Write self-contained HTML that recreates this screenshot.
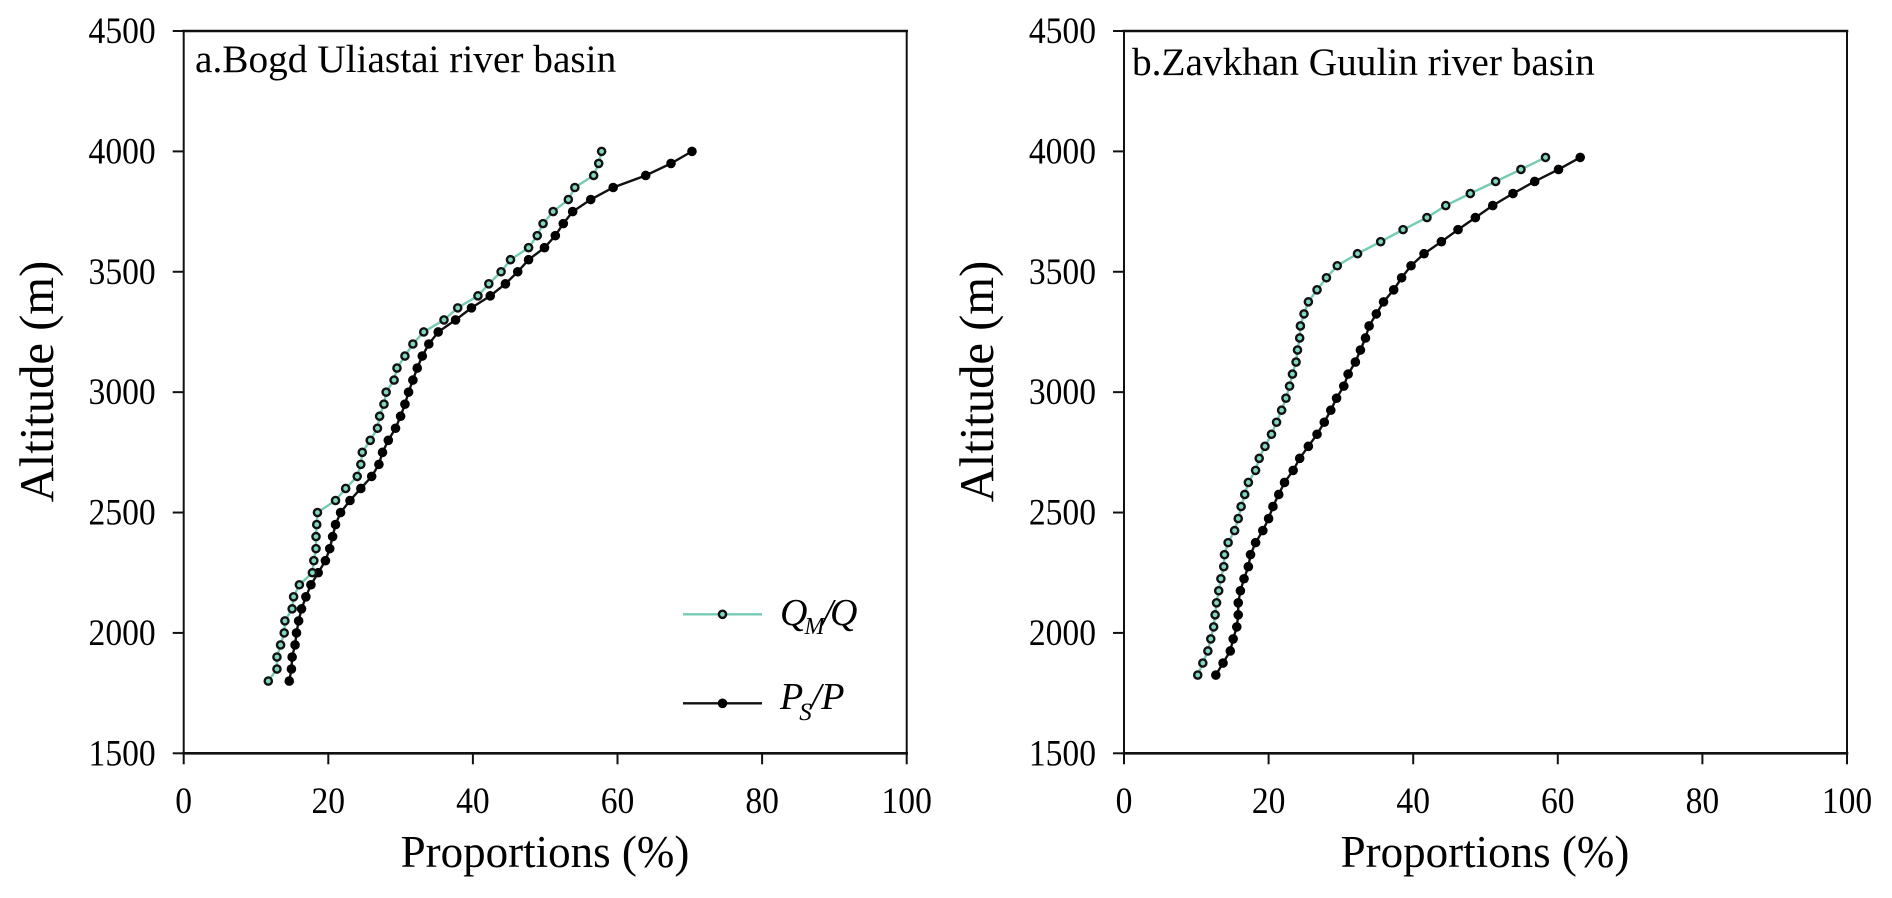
<!DOCTYPE html>
<html lang="en">
<head>
<meta charset="utf-8">
<title>Altitude vs proportions</title>
<style>
html,body{margin:0;padding:0;background:#fff;}
svg{display:block;}
text{font-family:"Liberation Serif",serif;fill:#000;}
.tick{font-size:36.5px;}
.axt{font-size:45px;}
.alt{font-size:48.6px;}
.pt{font-size:39.3px;}
.leg{font-size:38px;font-style:italic;}
</style>
</head>
<body>
<svg id="chart" xmlns="http://www.w3.org/2000/svg" width="1892" height="898" viewBox="0 0 1892 898">
  <rect x="0" y="0" width="1892" height="898" fill="#fff"/>

  <g id="panel-a"></g>
  <g id="panel-b"></g>

  <text class="pt" x="195" y="72">a.Bogd Uliastai river basin</text>
  <text class="pt" x="1132" y="75">b.Zavkhan Guulin river basin</text>

  <text class="axt" x="545" y="867" text-anchor="middle">Proportions (%)</text>
  <text class="axt" x="1485" y="867" text-anchor="middle">Proportions (%)</text>
  <text class="alt" transform="translate(53,381.5) rotate(-90)" text-anchor="middle">Altitude (m)</text>
  <text class="alt" transform="translate(993,381.5) rotate(-90)" text-anchor="middle">Altitude (m)</text>

  <g>
    <g>
      <line x1="683" y1="614.3" x2="762" y2="614.3" stroke="#75cbb4" stroke-width="2.4"/>
      <circle cx="722.5" cy="614.3" r="3.6" fill="#80d6c0" stroke="#111" stroke-width="2.4"/>
      <text class="leg" x="780" y="625">Q<tspan font-size="24" dy="9" dx="-3">M</tspan><tspan dy="-9" dx="-2">/</tspan><tspan dx="-3">Q</tspan></text>
    </g>
    <g>
      <line x1="683" y1="703.3" x2="762" y2="703.3" stroke="#111" stroke-width="2.4"/>
      <circle cx="722.5" cy="703.3" r="4.8" fill="#000"/>
      <text class="leg" x="780" y="709">P<tspan font-size="25" dy="11" dx="-4">S</tspan><tspan dy="-11" dx="-1">/P</tspan></text>
    </g>
  </g>
  <script>
    var xTickLabels = [0, 20, 40, 60, 80, 100];
    var yTickLabels = [1500, 2000, 2500, 3000, 3500, 4000, 4500];

    var altitudesA = [4000,3950,3900,3850,3800,3750,3700,3650,3600,3550,3500,3450,3400,3350,3300,3250,3200,3150,3100,3050,3000,2950,2900,2850,2800,2750,2700,2650,2600,2550,2500,2450,2400,2350,2300,2250,2200,2150,2100,2050,2000,1950,1900,1850,1800];
    var qmRatioA = [57.8,57.4,56.7,54.1,53.2,51.1,49.7,48.9,47.7,45.2,43.9,42.2,40.7,37.9,36.0,33.2,31.7,30.6,29.5,29.1,28.0,27.7,27.1,26.8,25.8,24.7,24.5,24.0,22.4,21.0,18.5,18.4,18.3,18.3,18.0,17.8,16.0,15.2,15.0,14.0,13.9,13.4,12.9,12.9,11.7];
    var psRatioA = [70.3,67.4,63.9,59.4,56.3,53.8,52.5,51.4,49.9,47.7,46.2,44.5,42.4,39.8,37.6,35.2,33.9,33.0,32.3,31.7,31.1,30.6,30.0,29.3,28.3,27.5,27.0,26.0,24.5,23.0,21.7,21.0,20.6,20.2,19.6,18.6,17.6,16.9,16.3,15.9,15.6,15.4,15.0,14.9,14.6];

    var altitudesB = [3975,3925,3875,3825,3775,3725,3675,3625,3575,3525,3475,3425,3375,3325,3275,3225,3175,3125,3075,3025,2975,2925,2875,2825,2775,2725,2675,2625,2575,2525,2475,2425,2375,2325,2275,2225,2175,2125,2075,2025,1975,1925,1875,1825];
    var qmRatioB = [58.3,54.9,51.4,47.9,44.5,41.9,38.6,35.5,32.3,29.5,28.0,26.7,25.5,24.9,24.4,24.3,24.0,23.8,23.3,22.9,22.4,21.8,21.1,20.4,19.5,18.7,18.2,17.2,16.7,16.2,15.8,15.3,14.4,13.9,13.8,13.4,13.1,12.8,12.6,12.4,12.0,11.6,10.9,10.2];
    var psRatioB = [63.1,60.1,56.8,53.8,51.0,48.6,46.2,43.9,41.5,39.7,38.4,37.3,35.9,34.9,33.9,33.4,32.7,32.0,31.0,30.4,29.4,28.6,27.7,26.7,25.5,24.3,23.4,22.2,21.4,20.6,20.0,19.2,18.2,17.5,17.2,16.6,16.1,15.8,15.8,15.6,15.1,14.7,13.7,12.7];

    var NS = 'http://www.w3.org/2000/svg';
    var plotTop = 31;
    var plotBottom = 753.3;
    var plotWidth = 723;
    var xMax = 100;
    var yMin = 1500;
    var yMax = 4500;
    var tickSqueeze = 0.92;

    function yScale(v) {
      return plotBottom - (v - yMin) / (yMax - yMin) * (plotBottom - plotTop);
    }

    function makeEl(tag, attrs, parent) {
      var el = document.createElementNS(NS, tag);
      for (var k in attrs) {
        el.setAttribute(k, attrs[k]);
      }
      parent.appendChild(el);
      return el;
    }

    function drawAxes(group, left) {
      var right = left + plotWidth;
      var frame = [
        [left, plotTop, right, plotTop, 2.6, 'axis-top'],
        [left, plotBottom, right, plotBottom, 2.6, 'axis-bottom'],
        [left, plotTop, left, plotBottom, 2, 'axis-left'],
        [right, plotTop, right, plotBottom, 2, 'axis-right']
      ];
      frame.forEach(function (f) {
        var ln = makeEl('line', {x1: f[0], y1: f[1], x2: f[2], y2: f[3], stroke: '#111', 'stroke-width': f[4], 'stroke-linecap': 'square'}, group);
        
        
      });
      xTickLabels.forEach(function (t) {
        var x = left + t / xMax * plotWidth;
        var tick = makeEl('line', {x1: x, y1: plotBottom, x2: x, y2: plotBottom + 11, stroke: '#111', 'stroke-width': 2}, group);
        
        
        var lab = makeEl('text', {transform: 'translate(' + x + ',813) scale(' + tickSqueeze + ',1)', 'text-anchor': 'middle', 'class': 'tick'}, group);
        lab.textContent = String(t);
        
        
      });
      yTickLabels.forEach(function (t) {
        var y = yScale(t);
        var tick = makeEl('line', {x1: left - 11, y1: y, x2: left, y2: y, stroke: '#111', 'stroke-width': 2}, group);
        
        
        var lab = makeEl('text', {transform: 'translate(' + (left - 28) + ',' + (y + 12) + ') scale(' + tickSqueeze + ',1)', 'text-anchor': 'end', 'class': 'tick'}, group);
        lab.textContent = String(t);
        
        
      });
    }

    function drawSeries(group, left, xs, ys, color, open, name) {
      var pts = xs.map(function (v, i) {
        return (left + v / xMax * plotWidth).toFixed(2) + ',' + yScale(ys[i]).toFixed(2);
      }).join(' ');
      var line = makeEl('polyline', {points: pts, fill: 'none', stroke: color, 'stroke-width': 2.4}, group);
      
      
      xs.forEach(function (v, i) {
        var attrs = {cx: left + v / xMax * plotWidth, cy: yScale(ys[i])};
        if (open) {
          attrs.r = 3.6;
          attrs.fill = '#80d6c0';
          attrs.stroke = '#111';
          attrs['stroke-width'] = 2.4;
        } else {
          attrs.r = 4.8;
          attrs.fill = '#000';
        }
        var pt = makeEl('circle', attrs, group);
        
        
      });
    }

    var panelA = document.getElementById('panel-a');
    var panelB = document.getElementById('panel-b');
    drawAxes(panelA, 183.7);
    drawAxes(panelB, 1124);
    drawSeries(panelA, 183.7, psRatioA, altitudesA, '#111', false, 'ps-p-basin-a');
    drawSeries(panelA, 183.7, qmRatioA, altitudesA, '#75cbb4', true, 'qm-q-basin-a');
    drawSeries(panelB, 1124, psRatioB, altitudesB, '#111', false, 'ps-p-basin-b');
    drawSeries(panelB, 1124, qmRatioB, altitudesB, '#75cbb4', true, 'qm-q-basin-b');
  </script>
</svg>
</body>
</html>
